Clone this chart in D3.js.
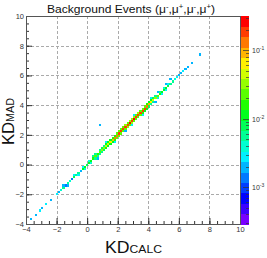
<!DOCTYPE html>
<html><head><meta charset="utf-8">
<script src="https://cdn.jsdelivr.net/npm/d3@7"></script>
<style>body{margin:0;background:#fff}svg{display:block}text{font-family:"Liberation Sans",Arial,sans-serif}</style>
</head><body><svg id="c" width="267" height="258"></svg>
<script>
const xDomain = [-4, 10];
const yDomain = [-4, 10];
const majorTicks = [-4, -2, 0, 2, 4, 6, 8, 10];
const zDomain = [2.9e-4, 0.316];
const zTicks = [1e-3, 1e-2, 1e-1];
const zTickExp = ["-3", "-2", "-1"];
const binWidth = 0.14;
const titleParts = [["Background Events (μ", "-"], [",μ", "+"], [",μ", "-"], [",μ", "+"], [")", ""]];
const xTitle = ["KD", "CALC"];
const yTitle = ["KD", "MAD"];

// diagonal cells (x bin centre = y bin centre)
const diagX = [-3.65,-3.37,-3.09,-2.95,-2.67,-2.39,-1.97,-1.83,-1.69,-1.55,-1.41,-1.27,-1.13,-0.99,-0.85,-0.71,-0.57,-0.43,-0.29,-0.15,-0.01,0.13,0.27,0.41,0.55,0.69,0.83,0.97,1.11,1.25,1.39,1.53,1.67,1.81,1.95,2.09,2.23,2.37,2.51,2.65,2.79,2.93,3.07,3.21,3.35,3.49,3.63,3.77,3.91,4.05,4.19,4.33,4.47,4.61,4.75,4.89,5.03,5.17,5.31,5.45,5.59,5.73,5.87,6.01,6.15,6.29,6.43,6.57,6.85,7.41];
const diagZ = [0.002,0.002,0.0025,0.002,0.0025,0.002,0.003,0.002,0.004,0.005,0.0015,0.006,0.004,0.0015,0.008,0.005,0.006,0.002,0.01,0.012,0.008,0.012,0.01,0.015,0.02,0.015,0.025,0.03,0.03,0.04,0.05,0.06,0.08,0.12,0.15,0.18,0.16,0.2,0.22,0.2,0.25,0.22,0.24,0.2,0.22,0.18,0.2,0.16,0.14,0.1,0.06,0.04,0.03,0.02,0.015,0.012,0.01,0.01,0.008,0.006,0.005,0.004,0.003,0.002,0.002,0.003,0.002,0.002,0.002,0.002];
// cells one bin above the diagonal
const aboveX = [-1.55,-0.85,-0.29,0.13,0.41,0.55,0.83,0.97,1.11,1.25,1.39,1.53,1.67,1.81,1.95,2.09,2.23,2.37,2.51,2.65,2.79,2.93,3.07,3.21,3.35,3.49,3.63,3.77,3.91,4.05,4.19,4.33,4.47,4.75,5.03,5.31];
const aboveZ = [0.002,0.003,0.003,0.004,0.005,0.006,0.006,0.008,0.006,0.01,0.01,0.012,0.015,0.015,0.02,0.025,0.02,0.025,0.03,0.025,0.03,0.03,0.03,0.025,0.03,0.02,0.025,0.02,0.015,0.012,0.01,0.008,0.006,0.005,0.004,0.003];
// cells one bin below the diagonal
const belowX = [-1.27,-0.57,-0.15,0.27,0.55,0.69,0.83,0.97,1.11,1.25,1.39,1.53,1.67,1.81,1.95,2.09,2.23,2.37,2.51,2.65,2.79,2.93,3.07,3.21,3.35,3.49,3.63,3.77,3.91,4.05,4.19,4.33,4.61,4.89,5.17];
const belowZ = [0.002,0.003,0.004,0.004,0.005,0.006,0.006,0.005,0.008,0.01,0.01,0.012,0.012,0.015,0.02,0.02,0.025,0.02,0.025,0.03,0.025,0.03,0.025,0.02,0.025,0.02,0.015,0.012,0.01,0.008,0.006,0.005,0.004,0.003,0.003];
// scattered single cells
const extraX = [0.83,0.69,1.25,2.51,3.07,3.63,4.19,4.61,5.45,1.81,2.93,4.47,5.17];
const extraY = [2.65,0.41,1.53,2.23,3.35,3.35,4.47,4.89,5.73,1.53,2.65,4.19,5.45];
const extraZ = [0.002,0.002,0.003,0.002,0.003,0.003,0.003,0.002,0.002,0.003,0.003,0.002,0.002];

const L = 26, R = 240, T = 16, B = 224;
const svg = d3.select("#c");
const x = d3.scaleLinear().domain(xDomain).range([L, R]);
const y = d3.scaleLinear().domain(yDomain).range([B, T]);
const z = d3.scaleLog().domain(zDomain).range([B, T]);
const nLev = 20;
const palette = d3.range(nLev).map(k => d3.hsl(268 - k * 268 / (nLev - 1), 1, 0.5).toString());
const lz = d3.scaleLinear().domain([Math.log10(zDomain[0]), Math.log10(zDomain[1])]).range([0, nLev]);
const colorOf = v => palette[Math.max(0, Math.min(nLev - 1, Math.floor(lz(Math.log10(v)))))];

// grid
const grid = svg.append("g").attr("stroke", "#aaa").attr("stroke-dasharray", "3,2").attr("stroke-width", 1);
majorTicks.filter(t => t > xDomain[0] && t < xDomain[1]).forEach(t => {
  grid.append("line").attr("x1", Math.round(x(t)) + 0.5).attr("x2", Math.round(x(t)) + 0.5).attr("y1", T).attr("y2", B);
  grid.append("line").attr("y1", Math.round(y(t)) + 0.5).attr("y2", Math.round(y(t)) + 0.5).attr("x1", L).attr("x2", R);
});

// cells
const cells = [];
diagX.forEach((v, i) => cells.push({x: v, y: v, z: diagZ[i]}));
aboveX.forEach((v, i) => cells.push({x: v, y: v + binWidth, z: aboveZ[i]}));
belowX.forEach((v, i) => cells.push({x: v, y: v - binWidth, z: belowZ[i]}));
extraX.forEach((v, i) => cells.push({x: v, y: extraY[i], z: extraZ[i]}));
svg.append("g").attr("shape-rendering", "crispEdges").selectAll("rect").data(cells).join("rect")
  .attr("x", d => x(d.x - binWidth / 2)).attr("width", d => x(d.x + binWidth / 2) - x(d.x - binWidth / 2))
  .attr("y", d => y(d.y + binWidth / 2)).attr("height", d => y(d.y - binWidth / 2) - y(d.y + binWidth / 2))
  .attr("fill", d => colorOf(d.z));

// axes
const minor = d3.range(xDomain[0], xDomain[1] + 0.001, 0.5);
const xa = svg.append("g").attr("transform", `translate(0,${B})`)
  .call(d3.axisBottom(x).tickValues(majorTicks).tickSize(-6).tickPadding(3).tickFormat(d3.format("d")));
svg.append("g").attr("transform", `translate(0,${B})`)
  .call(d3.axisBottom(x).tickValues(minor).tickSize(-3).tickFormat(""));
const ya = svg.append("g").attr("transform", `translate(${L},0)`)
  .call(d3.axisLeft(y).tickValues(majorTicks).tickSize(-6).tickPadding(2).tickFormat(d3.format("d")));
svg.append("g").attr("transform", `translate(${L},0)`)
  .call(d3.axisLeft(y).tickValues(minor).tickSize(-3).tickFormat(""));
svg.selectAll(".domain").remove();
svg.selectAll(".tick line").attr("stroke", "#333");
svg.selectAll(".tick text").attr("fill", "#333").style("font-size", "7.5px").style("font-family", "'Liberation Sans',Arial,sans-serif");
xa.selectAll(".tick text").attr("dy", "0.71em");
// frame
svg.append("rect").attr("x", L + 0.5).attr("y", T + 0.5).attr("width", R - L).attr("height", B - T)
  .attr("fill", "none").attr("stroke", "#555").attr("stroke-width", 1);

// colour bar
const cb = svg.append("g").attr("shape-rendering", "crispEdges");
palette.forEach((c, k) => {
  const y0 = B - (k + 1) * (B - T) / nLev, y1 = B - k * (B - T) / nLev;
  cb.append("rect").attr("x", 241).attr("y", y0).attr("width", 8).attr("height", y1 - y0 + 0.5).attr("fill", c);
});
const zMinor = [];
[1e-4, 1e-3, 1e-2, 1e-1].forEach(d => [1,2,3,4,5,6,7,8,9].forEach(m => { const v = d * m; if (v >= zDomain[0] && v <= zDomain[1]) zMinor.push(v); }));
svg.append("g").selectAll("line").data(zMinor).join("line")
  .attr("x1", 249).attr("x2", d => zTicks.includes(d) ? 243 : 246)
  .attr("y1", d => Math.round(z(d)) + 0.5).attr("y2", d => Math.round(z(d)) + 0.5)
  .attr("stroke", "#333").attr("stroke-width", 1).attr("stroke-opacity", 0.7);
const zl = svg.append("g").selectAll("text").data(zTicks).join("text")
  .attr("x", 252).attr("y", d => z(d) + 3).attr("fill", "#333").style("font-size", "7px");
zl.append("tspan").text("10");
zl.append("tspan").attr("dy", -3).style("font-size", "5px").text((d, i) => zTickExp[i]);

// title
const tt = svg.append("text").attr("x", 131).attr("y", 13).attr("text-anchor", "middle").style("font-size", "11px").attr("fill", "#111")
  .attr("textLength", 168).attr("lengthAdjust", "spacingAndGlyphs");
titleParts.forEach((p, i) => {
  tt.append("tspan").attr("dy", i === 0 ? 0 : 4).text(p[0]);
  if (p[1]) tt.append("tspan").attr("dy", -4).style("font-size", "7px").text(p[1]);
});

// axis titles
const xt = svg.append("text").attr("x", 105).attr("y", 253).attr("fill", "#111")
  .attr("textLength", 57).attr("lengthAdjust", "spacingAndGlyphs");
xt.append("tspan").style("font-size", "16px").text(xTitle[0]);
xt.append("tspan").style("font-size", "11px").text(xTitle[1]);
const yt = svg.append("text").attr("transform", "rotate(-90)").attr("x", -145).attr("y", 14).attr("fill", "#111")
  .attr("textLength", 47).attr("lengthAdjust", "spacingAndGlyphs");
yt.append("tspan").style("font-size", "17px").text(yTitle[0]);
yt.append("tspan").style("font-size", "11px").text(yTitle[1]);
</script></body></html>
